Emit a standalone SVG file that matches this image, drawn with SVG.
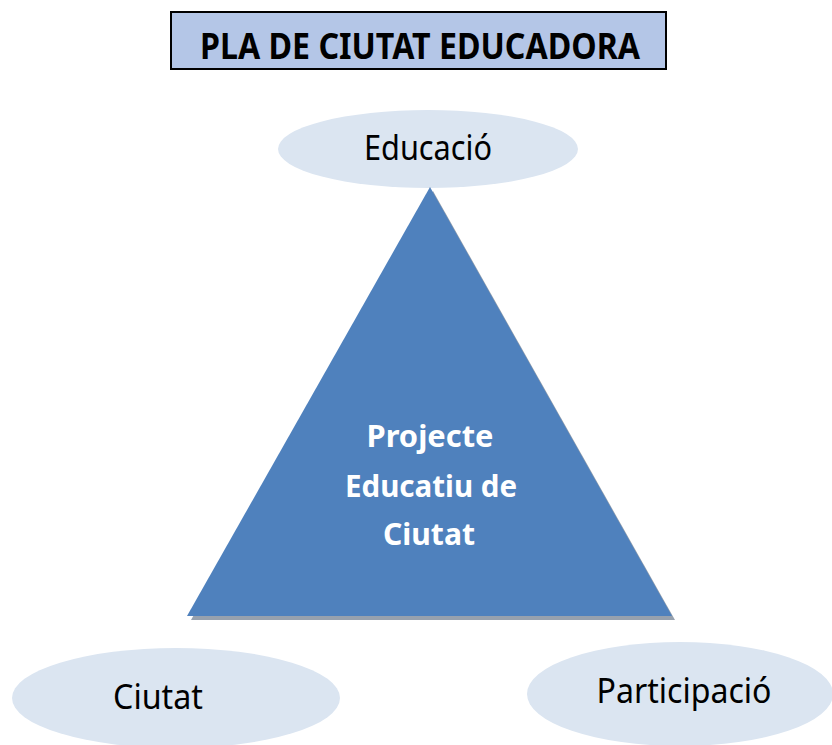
<svg xmlns="http://www.w3.org/2000/svg" width="832" height="745" viewBox="0 0 832 745">
<style>
.ell{fill:#dbe5f1;}
.lbl{font-family:"Noto Sans","Open Sans",sans-serif;font-size:34px;fill:#000;text-anchor:middle;}
.wt{font-family:"Noto Sans","Open Sans",sans-serif;font-size:31px;font-weight:bold;fill:#fff;text-anchor:middle;}
</style>
<rect width="832" height="745" fill="#fff"/>
<g id="title">
<rect x="171" y="12" width="495" height="57" fill="#b4c6e7" stroke="#000" stroke-width="2"/>
<text x="420" y="59" font-family="Noto Sans, Open Sans, sans-serif" font-size="36" font-weight="bold" text-anchor="middle" textLength="440" lengthAdjust="spacingAndGlyphs">PLA DE CIUTAT EDUCADORA</text>
</g>
<g id="educacio">
<ellipse class="ell" cx="428" cy="149" rx="150" ry="39"/>
<text class="lbl" x="428" y="160" textLength="128" lengthAdjust="spacingAndGlyphs">Educació</text>
</g>
<g id="triangle">
<polygon points="433,191 191,620 675,620" fill="#97a1ae"/>
<polygon points="430,187 187,616 672,616" fill="#4f81bd"/>
<text class="wt" x="430" y="447" textLength="127" lengthAdjust="spacingAndGlyphs">Projecte</text>
<text class="wt" x="431" y="497" textLength="172" lengthAdjust="spacingAndGlyphs">Educatiu de</text>
<text class="wt" x="429" y="545" textLength="92" lengthAdjust="spacingAndGlyphs">Ciutat</text>
</g>
<g id="ciutat">
<ellipse class="ell" cx="176" cy="698" rx="164" ry="50"/>
<text class="lbl" x="158" y="709" textLength="90" lengthAdjust="spacingAndGlyphs">Ciutat</text>
</g>
<g id="participacio">
<ellipse class="ell" cx="680" cy="694" rx="153" ry="52"/>
<text class="lbl" x="684" y="703" textLength="175" lengthAdjust="spacingAndGlyphs">Participació</text>
</g>
<g id="connectors"></g>
</svg>
